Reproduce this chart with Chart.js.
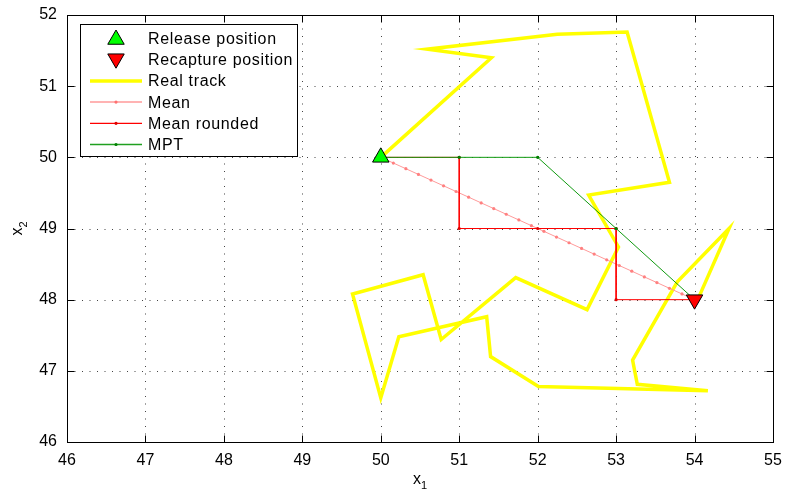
<!DOCTYPE html>
<html>
<head>
<meta charset="utf-8">
<script src="https://cdn.jsdelivr.net/npm/chart.js@4"></script>
<style>
  html, body { margin: 0; padding: 0; background: #fff; }
  #wrap { position: relative; width: 787px; height: 492px; }
</style>
</head>
<body>
<div id="wrap"><canvas id="trackChart"></canvas></div>
<script>
// Axis ticks
const xTicks = [46, 47, 48, 49, 50, 51, 52, 53, 54, 55];
const yTicks = [46, 47, 48, 49, 50, 51, 52];

// Release / recapture positions
const releaseX = [50];
const releaseY = [50];
const recaptureX = [54];
const recaptureY = [48];

// Real track
const trackX = [50.00, 51.41, 50.59, 52.25, 53.14, 53.68, 52.65, 53.03, 52.63, 51.72, 50.77, 50.54,
                49.64, 50.00, 50.23, 51.35, 51.40, 52.01, 54.17, 53.27, 53.21, 53.78, 54.44, 54.06];
const trackY = [50.00, 51.40, 51.52, 51.73, 51.76, 49.65, 49.47, 48.74, 47.86, 48.31, 47.44, 48.35,
                48.08, 46.62, 47.48, 47.76, 47.20, 46.78, 46.72, 46.81, 47.15, 48.25, 49.00, 48.05];

// Mean
const meanX = [50.00, 50.16, 50.32, 50.48, 50.64, 50.80, 50.96, 51.12, 51.28, 51.44, 51.60, 51.76, 51.92,
               52.08, 52.24, 52.40, 52.56, 52.72, 52.88, 53.04, 53.20, 53.36, 53.52, 53.68, 53.84, 54.00];
const meanY = [50.00, 49.92, 49.84, 49.76, 49.68, 49.60, 49.52, 49.44, 49.36, 49.28, 49.20, 49.12, 49.04,
               48.96, 48.88, 48.80, 48.72, 48.64, 48.56, 48.48, 48.40, 48.32, 48.24, 48.16, 48.08, 48.00];

// Mean rounded
const roundX = [50, 51, 51, 52, 53, 53, 54];
const roundY = [50, 50, 49, 49, 49, 48, 48];

// MPT
const mptX = [50, 51, 52, 53, 54];
const mptY = [50, 50, 50, 49, 48];

const legendLabels = ['Release position', 'Recapture position', 'Real track', 'Mean', 'Mean rounded', 'MPT'];

const FONT = '"Liberation Sans", Arial, Helvetica, sans-serif';
Chart.defaults.font.family = FONT;

const toPoints = (xs, ys) => xs.map((x, i) => ({ x: x, y: ys[i] }));

// triangle marker, same geometry as chart.js 'triangle' point style
function tri(ctx, cx, cy, r, down, fill) {
  const s = down ? -1 : 1;
  ctx.beginPath();
  ctx.moveTo(cx, cy - s * r);
  ctx.lineTo(cx + r * Math.sin(2 * Math.PI / 3), cy - s * r * Math.cos(2 * Math.PI / 3));
  ctx.lineTo(cx - r * Math.sin(2 * Math.PI / 3), cy - s * r * Math.cos(2 * Math.PI / 3));
  ctx.closePath();
  ctx.fillStyle = fill;
  ctx.fill();
  ctx.strokeStyle = '#000';
  ctx.lineWidth = 1;
  ctx.stroke();
}

// Grid, inner ticks, box, legend and axis titles (matlab look)
const matlabFrame = {
  id: 'matlabFrame',
  beforeDatasetsDraw(chart) {
    const { ctx, chartArea: a, scales: { x, y } } = chart;
    ctx.save();
    ctx.strokeStyle = '#444';
    ctx.lineWidth = 1;
    ctx.setLineDash([1, 6.5]);
    xTicks.slice(1, -1).forEach(v => {
      const px = Math.round(x.getPixelForValue(v)) + 0.5;
      ctx.beginPath(); ctx.moveTo(px, a.bottom); ctx.lineTo(px, a.top); ctx.stroke();
    });
    yTicks.slice(1, -1).forEach(v => {
      const py = Math.round(y.getPixelForValue(v)) + 0.5;
      ctx.beginPath(); ctx.moveTo(a.left, py); ctx.lineTo(a.right, py); ctx.stroke();
    });
    ctx.restore();
  },
  afterDatasetsDraw(chart) {
    const { ctx, chartArea: a, scales: { x, y } } = chart;
    const L = Math.round(a.left) + 0.5, R = Math.round(a.right) + 0.5;
    const T = Math.round(a.top) + 0.5, B = Math.round(a.bottom) + 0.5;
    const tl = 7;
    ctx.save();
    ctx.strokeStyle = '#000';
    ctx.lineWidth = 1;
    ctx.strokeRect(L, T, R - L, B - T);
    ctx.beginPath();
    xTicks.forEach(v => {
      const px = Math.round(x.getPixelForValue(v)) + 0.5;
      ctx.moveTo(px, B); ctx.lineTo(px, B - tl);
      ctx.moveTo(px, T); ctx.lineTo(px, T + tl);
    });
    yTicks.forEach(v => {
      const py = Math.round(y.getPixelForValue(v)) + 0.5;
      ctx.moveTo(L, py); ctx.lineTo(L + tl, py);
      ctx.moveTo(R, py); ctx.lineTo(R - tl, py);
    });
    ctx.stroke();

    // legend box
    const lx = 80.5, ly = 24.5, lw = 217, lh = 132;
    ctx.fillStyle = '#fff';
    ctx.fillRect(lx, ly, lw, lh);
    ctx.strokeRect(lx, ly, lw, lh);
    const rowY = i => 38.5 + i * 21.2;
    const x0 = 90, x1 = 142, xm = 116, tx = 148;

    tri(ctx, xm, rowY(0) + 1, 9.5, false, '#00ff00');
    tri(ctx, xm, rowY(1) - 1, 9.5, true, '#ff0000');

    const sample = (i, color, width, dot) => {
      ctx.beginPath();
      ctx.strokeStyle = color;
      ctx.lineWidth = width;
      ctx.moveTo(x0, rowY(i)); ctx.lineTo(x1, rowY(i));
      ctx.stroke();
      if (dot) {
        ctx.fillStyle = dot;
        ctx.beginPath(); ctx.arc(xm, rowY(i), 1.6, 0, 2 * Math.PI); ctx.fill();
      }
    };
    sample(2, '#ffff00', 3.5, null);
    sample(3, '#ff9a9a', 1.5, '#ff7070');
    sample(4, '#ff0000', 1.2, '#e00000');
    sample(5, '#20a020', 1.5, '#008000');

    ctx.fillStyle = '#000';
    ctx.font = '16px ' + FONT;
    ctx.textBaseline = 'middle';
    ctx.textAlign = 'left';
    ctx.letterSpacing = '0.65px';
    legendLabels.forEach((t, i) => ctx.fillText(t, tx, rowY(i) + 1));
    ctx.letterSpacing = '0px';

    // axis titles with subscripts
    const cx = (a.left + a.right) / 2;
    ctx.textBaseline = 'alphabetic';
    ctx.font = '16px ' + FONT;
    const wx = ctx.measureText('x').width;
    ctx.font = '11px ' + FONT;
    const w1 = ctx.measureText('1').width;
    const sx = cx - (wx + w1) / 2;
    ctx.font = '16px ' + FONT;
    ctx.fillText('x', sx, 484);
    ctx.font = '11px ' + FONT;
    ctx.fillText('1', sx + wx, 489);

    ctx.translate(22, (a.top + a.bottom) / 2);
    ctx.rotate(-Math.PI / 2);
    ctx.font = '16px ' + FONT;
    ctx.fillText('x', -(wx + w1) / 2, 0);
    ctx.font = '11px ' + FONT;
    ctx.fillText('2', -(wx + w1) / 2 + wx, 5);
    ctx.restore();
  }
};

new Chart(document.getElementById('trackChart'), {
  type: 'scatter',
  data: {
    datasets: [
      {
        label: legendLabels[0],
        data: toPoints(releaseX, releaseY),
        pointStyle: 'triangle',
        pointRadius: 9.5,
        pointBackgroundColor: '#00ff00',
        pointBorderColor: '#000',
        pointBorderWidth: 1,
        order: 0
      },
      {
        label: legendLabels[1],
        data: toPoints(recaptureX, recaptureY),
        pointStyle: 'triangle',
        pointRotation: 180,
        pointRadius: 9.5,
        pointBackgroundColor: '#ff0000',
        pointBorderColor: '#000',
        pointBorderWidth: 1,
        order: 0
      },
      {
        label: legendLabels[2],
        data: toPoints(trackX, trackY),
        showLine: true,
        borderColor: '#ffff00',
        borderWidth: 3.5,
        pointRadius: 0,
        order: 5
      },
      {
        label: legendLabels[3],
        data: toPoints(meanX, meanY),
        showLine: true,
        borderColor: '#ff9a9a',
        borderWidth: 1,
        pointRadius: 1.6,
        pointBorderWidth: 0,
        pointBackgroundColor: '#ff8080',
        order: 3
      },
      {
        label: legendLabels[4],
        data: toPoints(roundX, roundY),
        showLine: true,
        borderColor: '#ff0000',
        borderWidth: 1,
        pointRadius: 1.6,
        pointBorderWidth: 0,
        pointBackgroundColor: '#e00000',
        order: 2
      },
      {
        label: legendLabels[5],
        data: toPoints(mptX, mptY),
        showLine: true,
        borderColor: '#109a10',
        borderWidth: 1,
        pointRadius: 1.6,
        pointBorderWidth: 0,
        pointBackgroundColor: '#008000',
        order: 1
      }
    ]
  },
  options: {
    responsive: true,
    maintainAspectRatio: false,
    animation: false,
    layout: { padding: { top: 15, right: 14, left: 0, bottom: 0 } },
    plugins: {
      legend: { display: false },
      tooltip: { enabled: false }
    },
    scales: {
      x: {
        type: 'linear',
        min: xTicks[0],
        max: xTicks[xTicks.length - 1],
        afterFit: s => { s.height = 50; s.paddingLeft = 0; s.paddingRight = 0; },
        grid: { display: false, drawTicks: false },
        border: { display: false },
        ticks: { stepSize: 1, padding: 9, color: '#000', font: { size: 16 }, maxRotation: 0, autoSkip: false }
      },
      y: {
        type: 'linear',
        min: yTicks[0],
        max: yTicks[yTicks.length - 1],
        afterFit: s => { s.width = 67; s.paddingTop = 0; s.paddingBottom = 0; },
        grid: { display: false, drawTicks: false },
        border: { display: false },
        ticks: { stepSize: 1, padding: 10, color: '#000', font: { size: 16 } }
      }
    }
  },
  plugins: [matlabFrame]
});
</script>
</body>
</html>
